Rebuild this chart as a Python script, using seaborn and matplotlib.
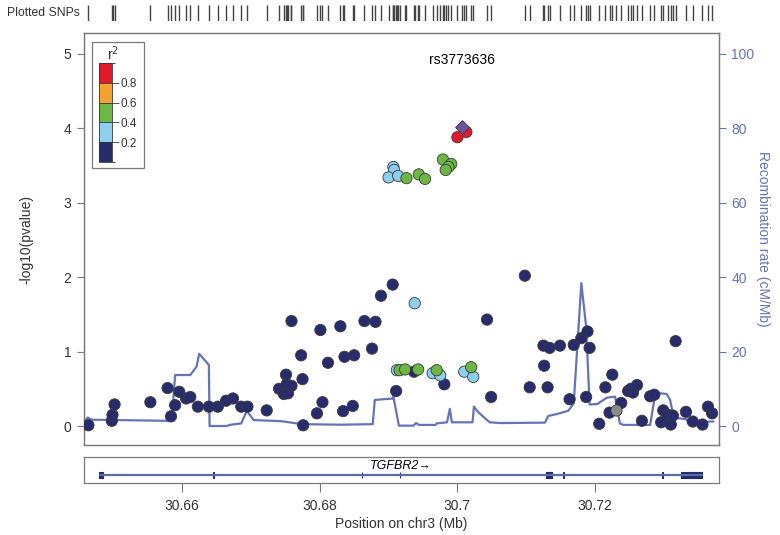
import numpy as np
import pandas as pd
import matplotlib
matplotlib.use('Agg')
import matplotlib.pyplot as plt
import seaborn as sns
from matplotlib.colors import ListedColormap, BoundaryNorm
from matplotlib.patches import Rectangle

# SNPs: position on chr3 (Mb), -log10(p), r2 with rs3773636 (nan = no LD info)
pos = [30.6464, 30.6498, 30.6499, 30.6502, 30.6554, 30.6579, 30.6584, 30.6590, 30.6596, 30.6606,
       30.6612, 30.6623, 30.6639, 30.6652, 30.6664, 30.6674, 30.6686, 30.6695, 30.6723, 30.6741,
       30.6748, 30.6751, 30.6752, 30.6754, 30.6759, 30.6759, 30.6773, 30.6775, 30.6776, 30.6796,
       30.6801, 30.6804, 30.6812, 30.6830, 30.6834, 30.6836, 30.6848, 30.6850, 30.6865, 30.6876,
       30.6881, 30.6889, 30.6906, 30.6911, 30.6937, 30.6981, 30.7043, 30.7049, 30.7098, 30.7105,
       30.7126, 30.7125, 30.7131, 30.7134, 30.7149, 30.7163, 30.7169, 30.7180, 30.7187, 30.7189,
       30.7192, 30.7206, 30.7215, 30.7221, 30.7225, 30.7238, 30.7248, 30.7252, 30.7255, 30.7261,
       30.7268, 30.7280, 30.7286, 30.7296, 30.7299, 30.7306, 30.7310, 30.7313, 30.7317, 30.7332,
       30.7342, 30.7356, 30.7364, 30.7370,
       30.7231,
       30.6938, 30.6912, 30.6964, 30.6975, 30.7010, 30.7023, 30.6907, 30.6908, 30.6900, 30.6914,
       30.6916, 30.6924, 30.6943, 30.6970, 30.7020, 30.6979, 30.6991, 30.6987, 30.6983, 30.6926,
       30.6944, 30.6953,
       30.7013, 30.7000]
logp = [0.01, 0.07, 0.15, 0.29, 0.32, 0.51, 0.13, 0.28, 0.46, 0.37,
        0.39, 0.26, 0.26, 0.26, 0.34, 0.37, 0.26, 0.26, 0.21, 0.50,
        0.43, 0.69, 0.56, 0.44, 0.54, 1.41, 0.95, 0.63, 0.01, 0.17,
        1.29, 0.32, 0.85, 1.34, 0.20, 0.93, 0.27, 0.95, 1.41, 1.04,
        1.40, 1.75, 1.90, 0.47, 0.73, 0.56, 1.43, 0.39, 2.02, 0.52,
        0.81, 1.08, 0.52, 1.05, 1.08, 0.36, 1.09, 1.18, 0.39, 1.27,
        1.05, 0.03, 0.52, 0.18, 0.69, 0.31, 0.47, 0.50, 0.45, 0.55,
        0.07, 0.40, 0.42, 0.05, 0.21, 0.15, 0.02, 0.14, 1.14, 0.19,
        0.06, 0.02, 0.26, 0.17,
        0.22,
        1.65, 0.75, 0.71, 0.68, 0.73, 0.66, 3.48, 3.44, 3.34, 3.36,
        0.75, 0.76, 0.76, 0.75, 0.79, 3.58, 3.52, 3.48, 3.44, 3.33,
        3.38, 3.32,
        3.95, 3.88]
r2 = [0.1] * 84 + [np.nan] + [0.3] * 10 + [0.5] * 12 + [0.9] * 2

index_name = 'rs3773636'
index_pos = 30.7006
index_logp = 4.02

# recombination rate (cM/Mb)
recomb_pos = [30.6460, 30.6463, 30.6468, 30.6579, 30.6585, 30.6590, 30.6612, 30.6621, 30.6625, 30.6639,
              30.6640, 30.6665, 30.6669, 30.6686, 30.6694, 30.6704, 30.6744, 30.6763, 30.6774, 30.6830,
              30.6877, 30.6880, 30.6906, 30.6907, 30.6915, 30.6936, 30.6940, 30.6944, 30.6968, 30.6970,
              30.6985, 30.6989, 30.6992, 30.7022, 30.7024, 30.7030, 30.7043, 30.7047, 30.7062, 30.7127,
              30.7132, 30.7144, 30.7161, 30.7169, 30.7180, 30.7187, 30.7192, 30.7203, 30.7217, 30.7229,
              30.7236, 30.7241, 30.7280, 30.7286, 30.7295, 30.7304, 30.7309, 30.7314, 30.7321, 30.7333,
              30.7336, 30.7353, 30.7365, 30.7372]
recomb_rate = [1.6, 2.3, 1.7, 1.4, 1.6, 13.7, 13.7, 15.9, 19.4, 16.4,
               0.0, 0.0, 0.3, 0.7, 4.1, 1.6, 1.3, 0.8, 0.5, 0.35,
               0.5, 7.0, 7.4, 7.9, 0.1, 0.1, 0.8, 0.3, 0.3, 0.7,
               1.0, 4.6, 1.0, 1.0, 5.2, 3.8, 1.6, 1.0, 0.8, 0.9,
               2.7, 3.2, 4.1, 6.1, 38.4, 26.7, 5.8, 5.9, 7.6, 7.9,
               0.7, 0.3, 0.3, 7.0, 8.8, 8.6, 7.0, 2.5, 2.1, 1.8,
               0.7, 0.7, 1.2, 1.2]

# TGFBR2 gene model
gene_name = 'TGFBR2'
gene_start, gene_end = 30.6481, 30.7356
exon_start = [30.6480, 30.6645, 30.6861, 30.6916, 30.7129, 30.7154, 30.7297, 30.7325]
exon_end = [30.6485, 30.6646, 30.6862, 30.6917, 30.7137, 30.7155, 30.7298, 30.7355]

r2_bins = [0, 0.2, 0.4, 0.6, 0.8, 1.0]
r2_labels = ['0-0.2', '0.2-0.4', '0.4-0.6', '0.6-0.8', '0.8-1']
r2_colors = ['#262c6c', '#8dcff0', '#6cb845', '#f6a233', '#e2192d']

xticks = [30.66, 30.68, 30.70, 30.72]
xticklabels = ['30.66', '30.68', '30.7', '30.72']

sns.set_style('white')
plt.rcParams['font.family'] = ['Liberation Sans', 'DejaVu Sans']
plt.rcParams['font.size'] = 10

W, H = 780, 535
xlim = (30.64576, 30.7380)
recomb_col = '#6574b6'
frame_col = '#7a7a7a'
text_col = '#333333'

df = pd.DataFrame({'pos': pos, 'logp': logp, 'r2': r2})
df['ld'] = pd.cut(df['r2'], r2_bins, labels=r2_labels)
known = df.dropna(subset=['r2']).sort_values('r2')
unknown = df[df['r2'].isna()]

fig = plt.figure(figsize=(W / 100, H / 100), dpi=100)
ax = fig.add_axes([84 / W, 1 - 445 / H, 635 / W, 412 / H])
ax2 = ax.twinx()

# recombination rate behind the points
sns.lineplot(x=recomb_pos, y=recomb_rate, ax=ax2, color=recomb_col, lw=1.6,
             sort=False, estimator=None)
ax.set_zorder(ax2.get_zorder() + 1)
ax.patch.set_visible(False)

sns.scatterplot(data=known, x='pos', y='logp', hue='ld', hue_order=r2_labels,
                palette=dict(zip(r2_labels, r2_colors)), s=66, edgecolor='#3a3a3a',
                linewidth=0.6, legend=False, ax=ax, zorder=3)
sns.scatterplot(data=unknown, x='pos', y='logp', color='#8a8a8a', s=66,
                edgecolor='#3a3a3a', linewidth=0.6, ax=ax, zorder=3)
sns.scatterplot(x=[index_pos], y=[index_logp], marker='D', color='#7451a0', s=50,
                edgecolor='#3a3a3a', linewidth=0.6, ax=ax, zorder=4)
ax.text(index_pos, 4.92, index_name, ha='center', va='center', fontsize=10, color='black')

ax.set_xlim(xlim)
ax.set_ylim(-0.255, 5.28)
ax2.set_ylim(-5.1, 105.6)
ax.set_xticks([])
ax.set_yticks([0, 1, 2, 3, 4, 5])
ax2.set_yticks([0, 20, 40, 60, 80, 100])
ax.tick_params(axis='y', length=5, width=0.8, color=frame_col, pad=4, labelcolor=text_col,
               labelsize=10, left=True)
ax2.tick_params(axis='y', length=5, width=0.8, color=recomb_col, pad=4, labelcolor=recomb_col,
                labelsize=10, right=True)
ax.set_xlabel('')
ax.set_ylabel('-log10(pvalue)', color=text_col, fontsize=10)
ax.yaxis.set_label_coords(-0.08, 0.5)
ax2.set_ylabel('Recombination rate (cM/Mb)', color=recomb_col, fontsize=10, rotation=270)
ax2.yaxis.set_label_coords(1.08, 0.5)
for a in (ax, ax2):
    for sp in a.spines.values():
        sp.set_color(frame_col)
        sp.set_linewidth(0.9)

# r2 legend
fig.patches.append(Rectangle((92 / W, 1 - 168 / H), 52 / W, 126 / H, transform=fig.transFigure,
                             fill=False, edgecolor=frame_col, lw=0.9))
cax = fig.add_axes([98.5 / W, 1 - 162 / H, 13 / W, 99 / H])
sm = plt.cm.ScalarMappable(cmap=ListedColormap(r2_colors), norm=BoundaryNorm(r2_bins, 5))
cb = fig.colorbar(sm, cax=cax, ticks=[0.2, 0.4, 0.6, 0.8], drawedges=True)
cb.outline.set_edgecolor('#333333')
cb.outline.set_linewidth(0.6)
cb.dividers.set_color('#333333')
cb.dividers.set_linewidth(0.6)
cax.tick_params(length=5, width=0.7, color='#555555', labelsize=8.5, labelcolor=text_col, pad=1.5)
fig.text(113 / W, 1 - 54 / H, 'r$^2$', ha='center', va='center', fontsize=10, color=text_col)

# plotted SNPs rug
ax_rug = fig.add_axes([84 / W, 1 - 21 / H, 635 / W, 16 / H])
sns.rugplot(x=pos + [index_pos], ax=ax_rug, height=1, color='#444444', lw=0.8)
ax_rug.set_xlim(xlim)
ax_rug.set_ylim(0, 1)
ax_rug.axis('off')
fig.text(7 / W, 1 - 13 / H, 'Plotted SNPs', ha='left', va='center', fontsize=8.8, color=text_col)

# gene track
axg = fig.add_axes([84 / W, 1 - 483 / H, 635 / W, 26 / H])
axg.plot([gene_start, gene_end], [0.3, 0.3], color='#5d6aa8', lw=1.6)
axg.broken_barh([(s, e - s) for s, e in zip(exon_start, exon_end)], (0.18, 0.24),
                facecolor='#232a6b', edgecolor='#232a6b', lw=0.8)
axg.text((gene_start + gene_end) / 2, 0.64, gene_name + '\u2192', ha='center', va='center',
         fontsize=9, style='italic', color='black')
axg.set_xlim(xlim)
axg.set_ylim(0, 1)
axg.set_yticks([])
axg.set_xticks(xticks)
axg.set_xticklabels(xticklabels)
axg.tick_params(axis='x', length=6.5, width=0.8, color=frame_col, pad=5, labelsize=10,
                labelcolor=text_col, bottom=True)
for sp in axg.spines.values():
    sp.set_color(frame_col)
    sp.set_linewidth(0.9)
axg.set_xlabel('Position on chr3 (Mb)', color=text_col, fontsize=10, labelpad=3)

fig.savefig('out.png', dpi=100)
